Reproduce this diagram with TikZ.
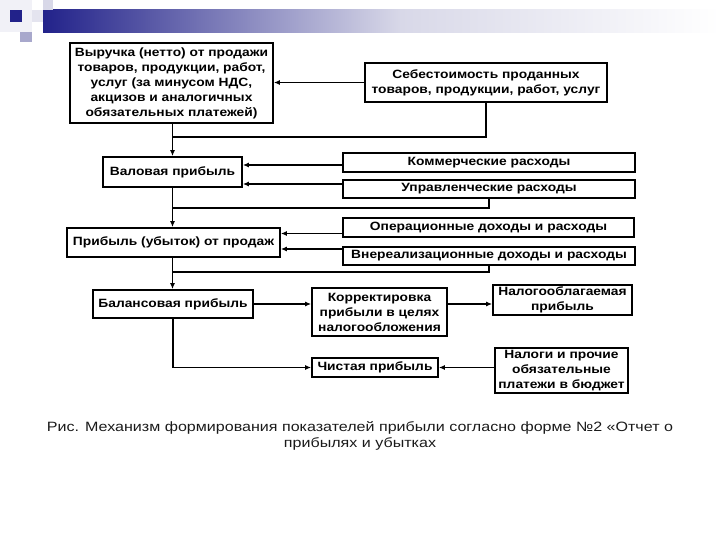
\documentclass[tikz,border=0pt]{standalone}
\usepackage{fontspec}
\setmainfont{Liberation Sans}
\newfontfamily\boxfont[FakeStretch=1.15]{Liberation Sans}
\newfontfamily\capfont[FakeStretch=1.19]{Liberation Sans}
\usetikzlibrary{arrows.meta}
\definecolor{navy}{HTML}{22228A}
\definecolor{lav}{HTML}{A8A8CC}
\definecolor{lavlight}{HTML}{D8D8E8}
\definecolor{capcol}{HTML}{1A1A1A}
\tikzset{
  bx/.style={draw, line width=1.7pt, fill=white, align=center, inner sep=1pt,
    font=\boxfont\bfseries\fontsize{12}{15}\selectfont, anchor=center},
  conn/.style={line width=1.3pt},
  arr/.style={conn, -{Latex[length=6pt,width=5pt]}},
}
\begin{document}
\begin{tikzpicture}[x=1pt,y=-1pt]
\useasboundingbox (0,0) rectangle (720,540);
% header decoration
\shade[left color=navy, right color=lavlight] (43,10) rectangle (400,33);
\shade[left color=lavlight, right color=white] (400,10) rectangle (720,33);
\fill[lavlight!35] (0,0) rectangle (32,32);
\fill[lavlight!70] (32,10) rectangle (43,22);
\fill[lavlight] (43,0) rectangle (53,10);
\fill[navy] (10,10) rectangle (22,22);
\fill[lav] (20,32) rectangle (32,42);
% boxes
\node[bx, minimum width=203, minimum height=80] (vyr) at (171.5,83)
  {Выручка (нетто) от продажи\\товаров, продукции, работ,\\услуг (за минусом НДС,\\акцизов и аналогичных\\обязательных платежей)};
\node[bx, minimum width=242, minimum height=39] (seb) at (486,82.5)
  {Себестоимость проданных\\товаров, продукции, работ, услуг};
\node[bx, minimum width=139, minimum height=30] (val) at (172.5,172) {Валовая прибыль};
\node[bx, minimum width=292, minimum height=19] (kom) at (489,162.5) {Коммерческие расходы};
\node[bx, minimum width=292, minimum height=18] (upr) at (489,189) {Управленческие расходы};
\node[bx, minimum width=213, minimum height=29] (prib) at (173.5,242.5) {Прибыль (убыток) от продаж};
\node[bx, minimum width=291, minimum height=19] (oper) at (488.5,227.5) {Операционные доходы и расходы};
\node[bx, minimum width=292, minimum height=18] (vner) at (489,256) {Внереализационные доходы и расходы};
\node[bx, minimum width=160, minimum height=28] (bal) at (173,304) {Балансовая прибыль};
\node[bx, minimum width=135, minimum height=48] (korr) at (379.5,312)
  {Корректировка\\прибыли в целях\\налогообложения};
\node[bx, minimum width=139, minimum height=30] (nalp) at (562.5,300) {Налогооблагаемая\\прибыль};
\node[bx, minimum width=126, minimum height=19] (chist) at (375,367.5) {Чистая прибыль};
\node[bx, minimum width=133, minimum height=45] (nalogi) at (561.5,370.5)
  {Налоги и прочие\\обязательные\\платежи в бюджет};
% junction points
\coordinate (j1) at (172.5,137);
\coordinate (j2) at (172.5,208);
\coordinate (j3) at (172.5,272);
% connectors
\draw[arr] (seb.west) -- (seb.west -| vyr.east);
\draw[conn] (seb.south) |- (j1);
\draw[arr] (vyr.south -| val.north) -- (val.north);
\draw[arr] ([yshift=-2.5pt]kom.west) -- ([yshift=-2.5pt]kom.west -| val.east);
\draw[arr] ([yshift=5pt]upr.west) -- ([yshift=5pt]upr.west -| val.east);
\draw[conn] (upr.south) |- (j2);
\draw[arr] (val.south) -- (val.south |- prib.north);
\draw[arr] ([yshift=-6pt]oper.west) -- ([yshift=-6pt]oper.west -| prib.east);
\draw[arr] ([yshift=7pt]vner.west) -- ([yshift=7pt]vner.west -| prib.east);
\draw[conn] (vner.south) |- (j3);
\draw[arr] (val.south |- prib.south) -- (val.south |- bal.north);
\draw[arr] (bal.east) -- (bal.east -| korr.west);
\draw[arr] (korr.east |- bal.east) -- (nalp.west |- bal.east);
\draw[arr] (bal.south) |- (chist.west);
\draw[arr] (nalogi.west |- chist.east) -- (chist.east);
% caption
\node[align=center, text=capcol, font=\capfont\fontsize{13.5}{16}\selectfont] (cap) at (360,436)
  {Рис. Механизм формирования показателей прибыли согласно форме №2 «Отчет о\\прибылях и убытках};
\end{tikzpicture}
\end{document}
